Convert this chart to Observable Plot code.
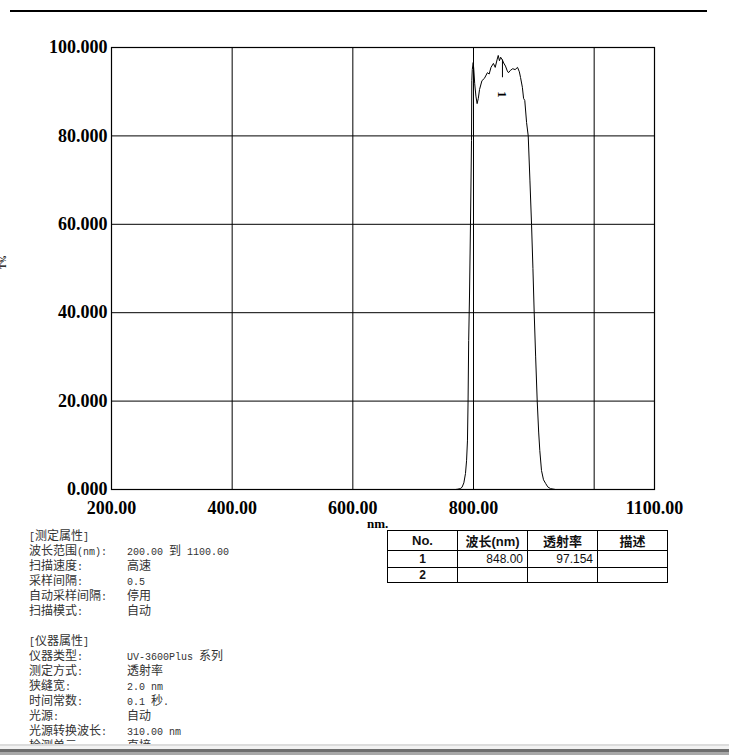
<!DOCTYPE html>
<html>
<head>
<meta charset="utf-8">
<script src="https://cdn.jsdelivr.net/npm/d3@7"></script>
<script src="https://cdn.jsdelivr.net/npm/@observablehq/plot@0.6"></script>
<style>
  html, body { margin: 0; padding: 0; background: #fff; }
  #wrap { position: relative; width: 729px; height: 755px; overflow: hidden; background: #fff; }
  #wrap svg { position: absolute; left: 0; top: 0; }
  .info { position: absolute; left: 0; top: 530px; font-family: "Liberation Mono", monospace; font-size: 10px; line-height: 15px; color: #333; }
  .info .row { position: relative; height: 15px; white-space: pre; }
  .info .k { position: absolute; left: 29px; }
  .info .v { position: absolute; left: 127px; }
  .info .cjk { font-family: "Liberation Mono", "Noto Sans CJK SC", sans-serif; font-size: 12px; }
  table.res { position: absolute; left: 387px; top: 530px; border-collapse: collapse; font-family: "Liberation Sans", "Noto Sans CJK SC", sans-serif; font-size: 12px; color: #111; }
  table.res td { border: 1px solid #000; width: 70px; padding: 0 4px; box-sizing: border-box; }
  table.res tr.h td { height: 19px; text-align: center; font-weight: bold; font-size: 13px; }
  table.res tr.d td { height: 17px; }
  table.res tr.d2 td { height: 15px; }
</style>
</head>
<body>
<div id="wrap"></div>
<script>
// ---- Data ----
const wavelength = [200, 770, 773, 778, 781, 784, 786.7, 788.5, 790, 791, 792, 793.4, 795, 796.7, 797.2, 798, 799.5, 800.5, 802, 804, 806, 808, 810, 814, 818, 823, 826, 829, 833, 836, 839, 841, 843, 845, 848, 850, 853, 856, 858, 861, 865, 869, 873, 876, 878, 881, 883, 885, 888, 890.7, 893.5, 896.2, 898.5, 900.6, 903, 905.6, 908, 909.9, 912.7, 916, 919.4, 923, 927.6, 936, 1100];
const transmittance = [0, 0, 0.05, 0.2, 0.5, 1.5, 3.6, 6.5, 11, 20, 33.7, 44, 60, 79, 92.5, 95, 96.6, 95, 91.8, 89, 87.3, 88.5, 90.5, 92.5, 93, 94.3, 94, 95.5, 96.4, 95.5, 97.2, 98.2, 97, 97.8, 97.15, 96.5, 95.8, 94.7, 94.3, 94.8, 95.2, 95, 95.5, 94.5, 93.2, 91, 88.5, 88, 83, 80, 70, 60, 50, 40, 30, 20, 13, 8.8, 4.3, 2.2, 1.4, 0.6, 0.2, 0, 0];
const xTicks = [200, 400, 600, 800, 1100];
const xGrid = [200, 400, 600, 800, 1000, 1100];
const yTicks = [0, 20, 40, 60, 80, 100];
const peakWl = [848];
const peakT = [97.154];
const peakLabel = ["1"];

const measureKeys = ["[测定属性]", "波长范围(nm):", "扫描速度:", "采样间隔:", "自动采样间隔:", "扫描模式:"];
const measureVals = ["", "200.00 到 1100.00", "高速", "0.5", "停用", "自动"];
const instrKeys = ["[仪器属性]", "仪器类型:", "测定方式:", "狭缝宽:", "时间常数:", "光源:", "光源转换波长:", "检测单元:"];
const instrVals = ["", "UV-3600Plus 系列", "透射率", "2.0 nm", "0.1 秒.", "自动", "310.00 nm", "直接"];

const tableHeader = ["No.", "波长(nm)", "透射率", "描述"];
const tableNo = ["1", "2"];
const tableWl = ["848.00", ""];
const tableT = ["97.154", ""];
const tableDesc = ["", ""];

// ---- Build ----
const spectrum = wavelength.map((w, i) => ({w, t: transmittance[i]}));
const peaks = peakWl.map((w, i) => ({w, t: peakT[i], label: peakLabel[i]}));

const axisFont = "Liberation Serif";
const plot = Plot.plot({
  width: 729,
  height: 755,
  marginLeft: 111,
  marginRight: 75,
  marginTop: 47,
  marginBottom: 266,
  style: {background: "transparent", color: "#000", fontFamily: axisFont, fontSize: "18px"},
  x: {domain: [200, 1100]},
  y: {domain: [0, 100]},
  marks: [
    Plot.ruleX(xGrid, {stroke: "#000", strokeWidth: 1}),
    Plot.ruleY(yTicks, {stroke: "#000", strokeWidth: 1}),
    Plot.frame({stroke: "#000", strokeWidth: 1.2}),
    Plot.axisX(xTicks, {tickSize: 0, tickPadding: 12, tickFormat: d => d.toFixed(2), label: null, fontSize: 18, fontFamily: axisFont, fontWeight: "bold", letterSpacing: "0.6px"}),
    Plot.axisY(yTicks, {tickSize: 0, tickPadding: 4, tickFormat: d => d.toFixed(3), label: null, fontSize: 18, fontFamily: axisFont, fontWeight: "bold", letterSpacing: "0.6px"}),
    Plot.line(spectrum, {x: "w", y: "t", stroke: "#000", strokeWidth: 1}),
    Plot.ruleX(peaks, {x: "w", y1: "t", y2: d => d.t - 4, stroke: "#000", strokeWidth: 1}),
    Plot.text(peaks, {x: "w", y: d => d.t - 7.8, text: "label", rotate: 90, fontSize: 13, fontWeight: "bold", fontFamily: axisFont})
  ]
});

const wrap = document.getElementById("wrap");
wrap.appendChild(plot);

function addDiv(style, text) {
  const d = document.createElement("div");
  d.style.cssText = "position:absolute;" + style;
  if (text) d.textContent = text;
  wrap.appendChild(d);
  return d;
}
// top rule
addDiv("left:10px;top:10px;width:697px;height:2px;background:#000;");
// rotated y label at the left edge
addDiv("left:-3px;top:258px;font:bold 8px 'Liberation Serif';line-height:8px;transform:rotate(-90deg);transform-origin:center;", "T%");
// x unit label
addDiv("left:367px;top:516px;font:bold 13px 'Liberation Serif';", "nm.");

// info block: CJK runs slightly larger than Latin runs
function fillMixed(el, s) {
  const re = /([\u3000-\u9fff\uff00-\uffef]+)/;
  s.split(re).forEach(part => {
    if (!part) return;
    const sp = document.createElement("span");
    if (re.test(part)) sp.className = "cjk";
    sp.textContent = part;
    el.appendChild(sp);
  });
}
const info = document.createElement("div");
info.className = "info";
function addRows(keys, vals) {
  keys.forEach((k, i) => {
    const r = document.createElement("div");
    r.className = "row";
    const ks = document.createElement("span"); ks.className = "k"; fillMixed(ks, k);
    const vs = document.createElement("span"); vs.className = "v"; fillMixed(vs, vals[i]);
    r.appendChild(ks); r.appendChild(vs);
    info.appendChild(r);
  });
}
addRows(measureKeys, measureVals);
const blank = document.createElement("div"); blank.className = "row"; info.appendChild(blank);
addRows(instrKeys, instrVals);
wrap.appendChild(info);

// result table
const tbl = document.createElement("table");
tbl.className = "res";
const hr = tbl.insertRow(); hr.className = "h";
tableHeader.forEach(h => { const c = hr.insertCell(); c.textContent = h; });
tableNo.forEach((n, i) => {
  const r = tbl.insertRow(); r.className = i === 0 ? "d" : "d2";
  const c0 = r.insertCell(); c0.textContent = n; c0.style.textAlign = "center"; c0.style.fontWeight = "bold";
  const c1 = r.insertCell(); c1.textContent = tableWl[i]; c1.style.textAlign = "right";
  const c2 = r.insertCell(); c2.textContent = tableT[i]; c2.style.textAlign = "right";
  const c3 = r.insertCell(); c3.textContent = tableDesc[i];
});
wrap.appendChild(tbl);

// window bottom border
addDiv("left:0;top:744px;width:729px;height:2px;background:#dcdcdc;");
addDiv("left:0;top:746px;width:729px;height:3px;background:#f2f2f2;");
addDiv("left:0;top:749px;width:729px;height:3px;background:#6e6e6e;");
addDiv("left:0;top:752px;width:729px;height:3px;background:#a8a8a8;");
</script>
</body>
</html>
